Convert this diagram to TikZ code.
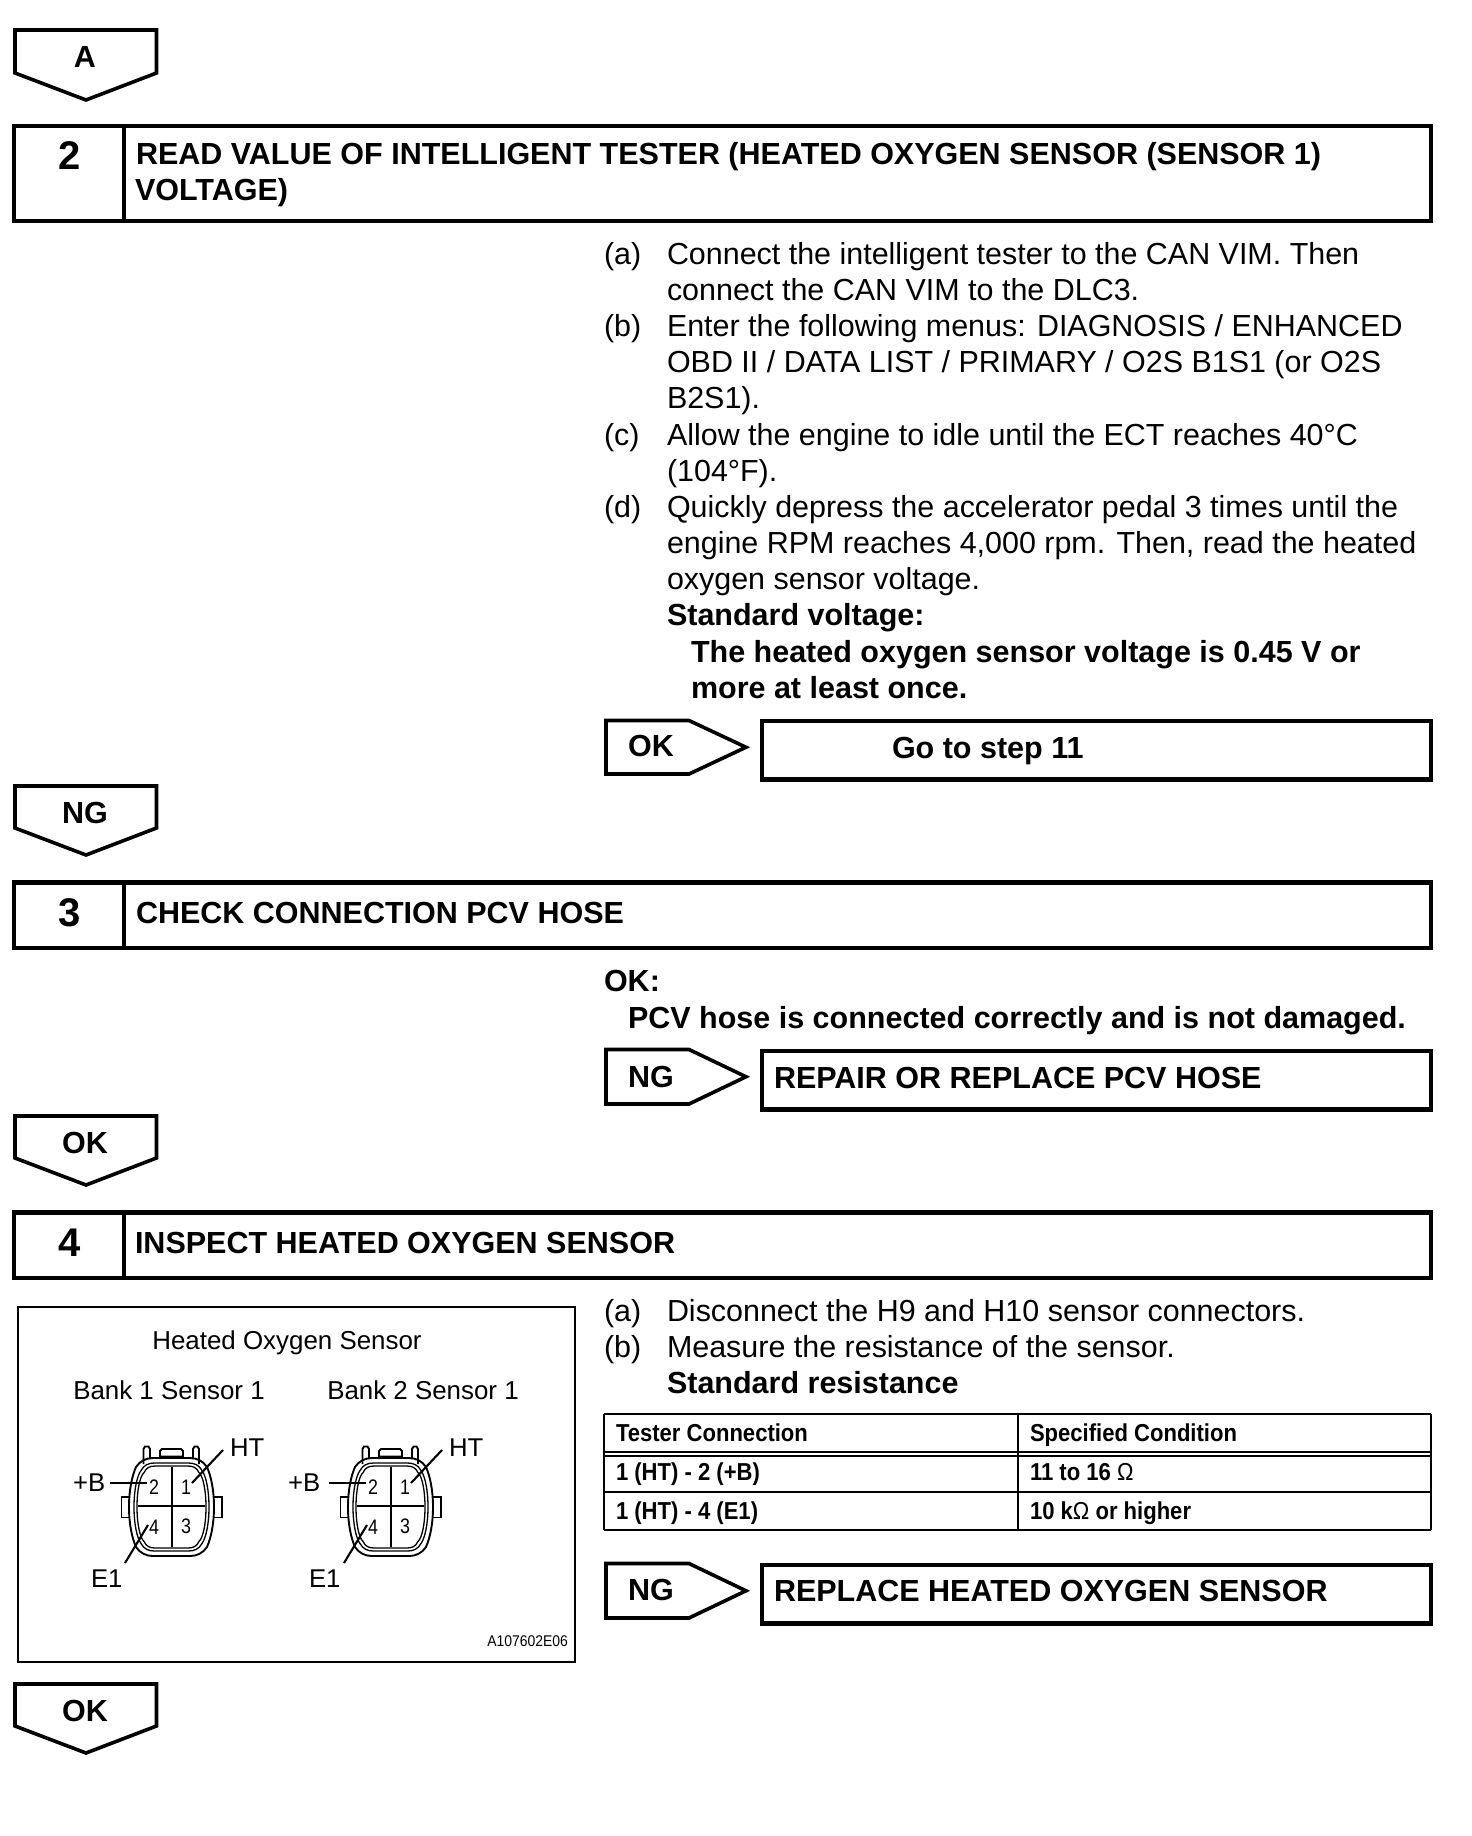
\documentclass[tikz,border=0pt]{standalone}
\usepackage{fontspec}
\setmainfont{Liberation Sans}
\newfontfamily\narrowfont[FakeStretch=0.9]{Liberation Sans}
\newfontfamily\pinfont[FakeStretch=0.85]{Liberation Sans}
\newcommand{\fs}[1]{\fontsize{#1}{#1}\selectfont}
\tikzset{
  every node/.style={inner sep=0pt,outer sep=0pt,anchor=base west,text=black},
  body/.style={font=\fs{30.45}},
  boldt/.style={font=\fs{30.5}\bfseries},
  head/.style={font=\fs{30.5}\bfseries},
  num/.style={font=\fs{40}\bfseries,anchor=base},
  tagt/.style={font=\fs{30.5}\bfseries,anchor=base},
  tbl/.style={font=\fs{24.5}\narrowfont\bfseries},
  fig/.style={font=\fs{25.7}},
  figc/.style={font=\fs{25.9},anchor=base},
  pin/.style={font=\fs{21}\pinfont,anchor=center},
  small/.style={font=\fs{15.5}\narrowfont,anchor=base east},
  frame/.style={draw=black,line width=4.6pt},
  tagbox/.style={draw=black,line width=3.6pt,line join=miter,fill=white},
  outline/.style={draw=black,line width=1.9pt},
  fine/.style={draw=black,line width=1.3pt},
  lead/.style={draw=black,line width=2.1pt},
  tline/.style={draw=black,line width=1.8pt},
}
\newcommand{\downtag}[5]{% name, label, ytop, yshoulder, ytip
  \draw[tagbox] (15,#3) -- (156.5,#3) -- (156.5,#4) -- (86,#5) -- (15,#4) -- cycle;
  \node[tagt] (#1) at (85,{#3+37.5}) {#2};}
\newcommand{\righttag}[5]{% name,label,ytop,ybot,ytextbase
  \draw[tagbox] (606,#3) -- (689,#3) -- (746,{(#3+#4)/2}) -- (689,#4) -- (606,#4) -- cycle;
  \node[tagt] (#1) at (651,#5) {#2};}
% egg-shaped connector body; #1 = line style, #2 = inset
\newcommand{\oxyshape}[2]{%
  \draw[#1] ({129+#2},1507)
    .. controls ({129+#2},1490) and ({132+#2},1476) .. ({136+#2},{1467+#2*.7})
    .. controls ({140+#2*.8},{1461+#2*.8}) and ({146+#2*.5},{1458+#2}) .. ({153+#2*.3},{1458+#2})
    -- ({190-#2*.3},{1458+#2})
    .. controls ({197-#2*.5},{1458+#2}) and ({203-#2*.8},{1461+#2*.8}) .. ({207-#2},{1467+#2*.7})
    .. controls ({211-#2},1476) and ({214-#2},1490) .. ({214-#2},1507)
    .. controls ({214-#2},1524) and ({211-#2},1538) .. ({207-#2},{1547-#2*.7})
    .. controls ({203-#2*.8},{1553-#2*.8}) and ({197-#2*.5},{1556-#2}) .. ({190-#2*.3},{1556-#2})
    -- ({153+#2*.3},{1556-#2})
    .. controls ({146+#2*.5},{1556-#2}) and ({140+#2*.8},{1553-#2*.8}) .. ({136+#2},{1547-#2*.7})
    .. controls ({132+#2},1538) and ({129+#2},1524) .. cycle;}
\newcommand{\oxyconn}[1]{%
  \begin{scope}[shift={(#1,0)}]
    \draw[outline] (129.5,1497) -- (121.5,1497) -- (121.5,1517.5) -- (129.5,1517.5);
    \draw[outline] (214,1497) -- (222,1497) -- (222,1517.5) -- (214,1517.5);
    \draw[outline] (143.5,1464) -- (143.5,1449) -- (145,1446.5) -- (148.5,1446.5) -- (150,1449) -- (150,1459);
    \draw[outline] (160,1459) -- (160,1451) -- (162,1449) -- (181,1449) -- (183,1451) -- (183,1456.5) -- (160,1456.5);
    \draw[outline] (193,1459) -- (193,1449) -- (194.5,1446.5) -- (197.5,1446.5) -- (199,1449) -- (199,1464);
    \oxyshape{outline}{0}
    \oxyshape{fine}{5}
    \oxyshape{fine}{8}
    \draw[lead] (172,1467) -- (172,1547);
    \draw[fine] (138,1506) -- (205,1506);
    \node[pin] at (154,1487) {2};
    \node[pin] at (186,1487) {1};
    \node[pin] at (154,1527) {4};
    \node[pin] at (186,1526) {3};
    \draw[lead] (110,1483) -- (147,1483);
    \draw[lead] (223,1450) -- (192,1483);
    \draw[lead] (148,1525) -- (125,1563);
  \end{scope}}
\begin{document}
\begin{tikzpicture}[x=1pt,y=-1pt]
\useasboundingbox (0,0) rectangle (1472,1836);
\fill[white] (0,0) rectangle (1472,1836);

% tags
\downtag{tA}{A}{30}{73}{100}
\downtag{tNG}{NG}{786}{828}{855}
\downtag{tOKa}{OK}{1116}{1158}{1185}
\downtag{tOKb}{OK}{1684}{1726}{1753}

% step headers
\draw[frame] (14,126) rectangle (1431,221);
\draw[frame] (124,126) -- (124,221);
\node[num] (n2) at (70,169) {2};
\node[head] (h2a) at (136,164) {READ VALUE OF INTELLIGENT TESTER (HEATED OXYGEN SENSOR (SENSOR 1)};
\node[head] (h2b) at (135,200) {VOLTAGE)};

\draw[frame] (14,882.5) rectangle (1431,948);
\draw[frame] (124,882.5) -- (124,948);
\node[num] (n3) at (70,926) {3};
\node[head] (h3) at (136,923) {CHECK CONNECTION PCV HOSE};

\draw[frame] (14,1212.5) rectangle (1431,1278);
\draw[frame] (124,1212.5) -- (124,1278);
\node[num] (n4) at (70,1256) {4};
\node[head] (h4) at (135,1253) {INSPECT HEATED OXYGEN SENSOR};

% step 2 text
\node[body] (a1) at (604,264.5) {(a)};
\node[body] at (667,264.5) {Connect the intelligent tester to the CAN VIM. Then};
\node[body] at (667,300.5) {connect the CAN VIM to the DLC3.};
\node[body] at (604,336.5) {(b)};
\node[body] at (667,336.5) {Enter the following menus: DIAGNOSIS / ENHANCED};
\node[body] at (667,372.5) {OBD II / DATA LIST / PRIMARY / O2S B1S1 (or O2S};
\node[body] at (667,408.5) {B2S1).};
\node[body] at (604,445) {(c)};
\node[body] at (667,445) {Allow the engine to idle until the ECT reaches 40°C};
\node[body] at (667,481) {(104°F).};
\node[body] at (604,517) {(d)};
\node[body] at (667,517) {Quickly depress the accelerator pedal 3 times until the};
\node[body] at (667,553) {engine RPM reaches 4,000 rpm. Then, read the heated};
\node[body] at (667,589) {oxygen sensor voltage.};
\node[boldt] at (667,625) {Standard voltage:};
\node[boldt] at (691,662) {The heated oxygen sensor voltage is 0.45 V or};
\node[boldt] at (691,698) {more at least once.};

% OK / go to
\righttag{rOK}{OK}{720.5}{774}{756}
\draw[frame] (762,721) rectangle (1431,779.5);
\node[head] (go) at (892,758) {Go to step 11};

% step 3 text
\node[boldt] at (604,991) {OK:};
\node[boldt] at (628,1028) {PCV hose is connected correctly and is not damaged.};
\righttag{rNGa}{NG}{1049.5}{1104}{1087}
\draw[frame] (762,1051) rectangle (1431,1109.5);
\node[head] (rep1) at (774,1088) {REPAIR OR REPLACE PCV HOSE};

% step 4 figure
\draw[draw=black,line width=2.2pt] (18,1307) rectangle (575,1662);
\node[figc] at (287,1349) {Heated Oxygen Sensor};
\node[figc] at (169,1399) {Bank 1 Sensor 1};
\node[figc] at (423,1399) {Bank 2 Sensor 1};
\oxyconn{0}
\oxyconn{219}
\node[fig] at (230,1456) {HT};
\node[fig] at (449,1456) {HT};
\node[fig] at (73,1491) {+B};
\node[fig] at (288,1491) {+B};
\node[fig] at (91,1587) {E1};
\node[fig] at (309,1587) {E1};
\node[small] at (568,1646) {A107602E06};

% step 4 text
\node[body] at (604,1321) {(a)};
\node[body] at (667,1321) {Disconnect the H9 and H10 sensor connectors.};
\node[body] at (604,1357) {(b)};
\node[body] at (667,1357) {Measure the resistance of the sensor.};
\node[boldt] at (667,1393) {Standard resistance};

% table
\draw[tline] (604,1414) -- (1431,1414);
\draw[tline] (604,1452) -- (1431,1452);
\draw[tline] (604,1456) -- (1431,1456);
\draw[tline] (604,1492) -- (1431,1492);
\draw[tline] (604,1530) -- (1431,1530);
\draw[tline] (604,1414) -- (604,1530);
\draw[tline] (1018,1414) -- (1018,1530);
\draw[tline] (1431,1414) -- (1431,1530);
\node[tbl] at (616,1441) {Tester Connection};
\node[tbl] at (1030,1441) {Specified Condition};
\node[tbl] at (616,1480) {1 (HT) - 2 (+B)};
\node[tbl] at (1030,1480) {11 to 16 {\mdseries Ω}};
\node[tbl] at (616,1519) {1 (HT) - 4 (E1)};
\node[tbl] at (1030,1519) {10 k{\mdseries Ω} or higher};

\righttag{rNGb}{NG}{1563.5}{1618}{1600}
\draw[frame] (762,1565) rectangle (1431,1623.5);
\node[head] (rep2) at (774,1601) {REPLACE HEATED OXYGEN SENSOR};
\end{tikzpicture}
\end{document}
